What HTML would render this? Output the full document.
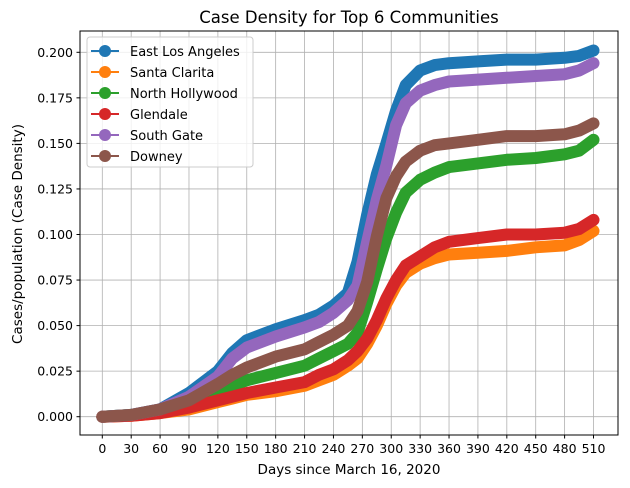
<!DOCTYPE html>
<html><head><meta charset="utf-8"><style>
body{margin:0;background:#fff;}
svg{display:block;font-family:"DejaVu Sans","Liberation Sans",sans-serif;}
</style></head><body>
<svg id="chart" width="630" height="488">
<text x="349" y="23" font-size="16.5" text-anchor="middle">Case Density for Top 6 Communities</text>
<text x="349" y="474" font-size="13.5" text-anchor="middle">Days since March 16, 2020</text>
<text x="22" y="234" font-size="13.5" text-anchor="middle" transform="rotate(-90 22 234)">Cases/population (Case Density)</text>
<g id="grid"></g>
<g id="series"></g>
<rect x="80" y="31" width="538" height="404" fill="none" stroke="#000" stroke-width="1"/>
<g id="ticks"></g>
<g id="legend"></g>
</svg>
<script>
const days = [0,30,60,90,120,135,150,180,210,225,240,255,265,275,285,295,305,315,330,345,360,390,420,450,480,495,510];
const names = ["East Los Angeles","Santa Clarita","North Hollywood","Glendale","South Gate","Downey"];
const colors = ["#1f77b4","#ff7f0e","#2ca02c","#d62728","#9467bd","#8c564b"];
const eastLA = [0,0.001,0.004,0.013,0.025,0.035,0.042,0.048,0.053,0.056,0.061,0.068,0.085,0.111,0.133,0.150,0.168,0.182,0.190,0.193,0.194,0.195,0.196,0.196,0.197,0.198,0.201];
const santaClarita = [0,0.0005,0.002,0.004,0.008,0.010,0.012,0.014,0.017,0.020,0.023,0.028,0.032,0.040,0.050,0.062,0.072,0.079,0.084,0.087,0.089,0.090,0.091,0.093,0.094,0.097,0.102];
const northHollywood = [0,0.001,0.003,0.006,0.013,0.017,0.020,0.024,0.028,0.032,0.036,0.040,0.046,0.063,0.081,0.098,0.112,0.123,0.130,0.134,0.137,0.139,0.141,0.142,0.144,0.146,0.152];
const glendale = [0,0.0005,0.002,0.005,0.009,0.011,0.013,0.016,0.019,0.023,0.026,0.031,0.036,0.043,0.053,0.065,0.075,0.083,0.088,0.093,0.096,0.098,0.100,0.100,0.101,0.103,0.108];
const southGate = [0,0.001,0.004,0.011,0.022,0.032,0.038,0.044,0.049,0.052,0.057,0.064,0.072,0.096,0.119,0.138,0.160,0.172,0.179,0.182,0.184,0.185,0.186,0.187,0.188,0.190,0.194];
const downey = [0,0.001,0.004,0.009,0.018,0.023,0.027,0.033,0.037,0.041,0.045,0.050,0.058,0.074,0.099,0.120,0.132,0.140,0.146,0.149,0.150,0.152,0.154,0.154,0.155,0.157,0.161];
const xTicks = [0,30,60,90,120,150,180,210,240,270,300,330,360,390,420,450,480,510];
const yTicks = [0,0.025,0.05,0.075,0.1,0.125,0.15,0.175,0.2];
const allSeries = [eastLA,santaClarita,northHollywood,glendale,southGate,downey];

const NS="http://www.w3.org/2000/svg";
const X0=80,X1=618,Y0=31,Y1=435;
const xs=d=>102.3+d*(491.2/510);
const ys=v=>416.7-v*(364.4/0.2);
function mk(tag,attrs,parent){const e=document.createElementNS(NS,tag);for(const k in attrs)e.setAttribute(k,attrs[k]);parent.appendChild(e);return e;}
const grid=document.getElementById('grid'),ticks=document.getElementById('ticks'),ser=document.getElementById('series'),leg=document.getElementById('legend');
xTicks.forEach(t=>{
  const x=xs(t);
  let g=mk('line',{x1:x,x2:x,y1:Y0,y2:Y1,stroke:'#b0b0b0','stroke-width':0.8},grid);
  
  
  let l=mk('line',{x1:x,x2:x,y1:Y1,y2:Y1+3.5,stroke:'#000'},ticks);
  
  
  let tx=mk('text',{x:x,y:Y1+18,'font-size':12.5,'text-anchor':'middle'},ticks);
  tx.textContent=t;
  
  
});
yTicks.forEach(t=>{
  const y=ys(t);
  let g=mk('line',{x1:X0,x2:X1,y1:y,y2:y,stroke:'#b0b0b0','stroke-width':0.8},grid);
  
  
  let l=mk('line',{x1:X0-3.5,x2:X0,y1:y,y2:y,stroke:'#000'},ticks);
  
  
  let tx=mk('text',{x:X0-7,y:y+4.5,'font-size':12.5,'text-anchor':'end'},ticks);
  tx.textContent=t.toFixed(3);
  
  
});
allSeries.forEach((s,i)=>{
  const pts=s.map((v,j)=>xs(days[j]).toFixed(1)+','+ys(v).toFixed(1)).join(' ');
  let p=mk('polyline',{points:pts,fill:'none',stroke:colors[i],'stroke-width':12,'stroke-linecap':'round','stroke-linejoin':'round'},ser);
  
  
});
let box=mk('rect',{x:87,y:37,width:166,height:130,rx:3,fill:'#fff','fill-opacity':0.8,stroke:'#ccc'},leg);


names.forEach((n,i)=>{
  const y=51+i*21;
  let g=mk('g',{},leg);
  
  
  mk('line',{x1:91,x2:119,y1:y,y2:y,stroke:colors[i],'stroke-width':2},g);
  mk('circle',{cx:105,cy:y,r:6,fill:colors[i]},g);
  let t=mk('text',{x:130,y:y+5,'font-size':13},g);
  t.textContent=n;
});
</script>
</body></html>
